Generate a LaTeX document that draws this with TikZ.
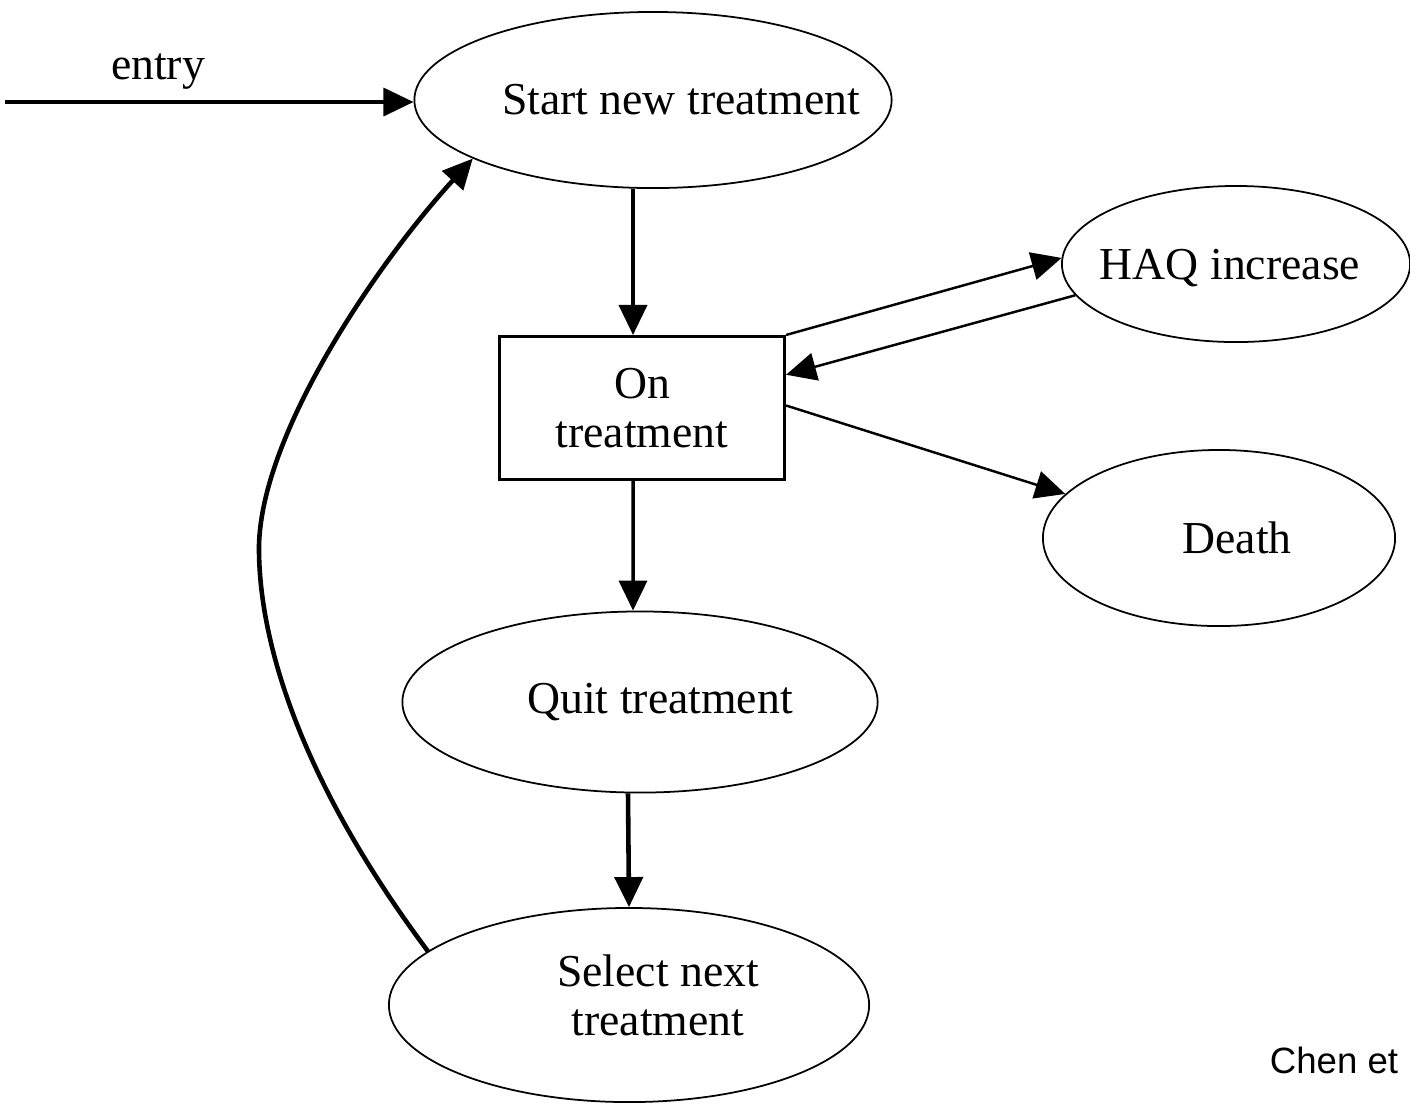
\documentclass[tikz,border=0pt]{standalone}
\usepackage{fontspec}
\setmainfont{Liberation Serif}
\newfontfamily\arialfont{Liberation Sans}
\usepackage{tikz}
\usetikzlibrary{arrows.meta,shapes.geometric}

\begin{document}
\begin{tikzpicture}[x=0.01cm,y=-0.01cm,
  font=\fontsize{13}{14}\selectfont,
  state/.style={draw,ellipse,line width=0.5pt,inner sep=0pt},
  arr/.style={-{Triangle[length=0.3cm,width=0.28cm]},line width=0.7pt},
  bigarr/.style={-{Triangle[length=0.3cm,width=0.28cm]},line width=1.3pt}]
\useasboundingbox (0,0) rectangle (1410,1105);

% States
\node[state,minimum width=4.77cm,minimum height=1.76cm,
  label={[xshift=0.28cm]center:Start new treatment}] (start) at (653,100) {};
\node[draw,line width=0.85pt,minimum width=2.85cm,minimum height=1.43cm,
  align=center,inner sep=0pt] (on) at (642,408) {On\\treatment};
\node[state,minimum width=3.48cm,minimum height=1.56cm,
  label={[xshift=-0.06cm,yshift=-0.04cm]center:HAQ increase}] (haq) at (1236,264) {};
\node[state,minimum width=3.52cm,minimum height=1.76cm,
  label={[xshift=0.18cm]center:Death}] (death) at (1219,538) {};
\node[state,minimum width=4.75cm,minimum height=1.81cm,
  label={[xshift=0.2cm]center:Quit treatment}] (quit) at (640,702) {};
\node[state,minimum width=4.8cm,minimum height=1.94cm,
  label={[xshift=0.29cm,yshift=0.1cm,align=center]center:Select next\\treatment}] (select) at (629,1005) {};

% Entry
\coordinate (in) at (5,102);
\draw[arr,line width=1pt] (in) -- (in -| start.west);
\node (entrylbl) at (158,72) {entry};

% Transitions
\draw[arr,line width=1.1pt] ([xshift=-0.2cm]start.south) -- ([xshift=-0.09cm]on.north);
\draw[arr] (on.north east) -- (haq.178);
\draw[arr] (haq.191) -- (on.13);
\draw[arr] (on.1) -- (death.164);
\draw[arr,line width=1pt] ([xshift=-0.09cm]on.south) -- ([xshift=-0.07cm]quit.north);
\draw[bigarr] ([xshift=-0.12cm]quit.south) -- (select.north);
\coordinate (bend) at (259,545);
\draw[bigarr] (select.165) .. controls (300,780) and (258,640) .. (bend)
  .. controls (262,430) and (380,260) .. (start.198);

\node[font=\arialfont\fontsize{10.4}{12}\selectfont] (cite) at (1334,1060) {Chen et};
\end{tikzpicture}
\end{document}
